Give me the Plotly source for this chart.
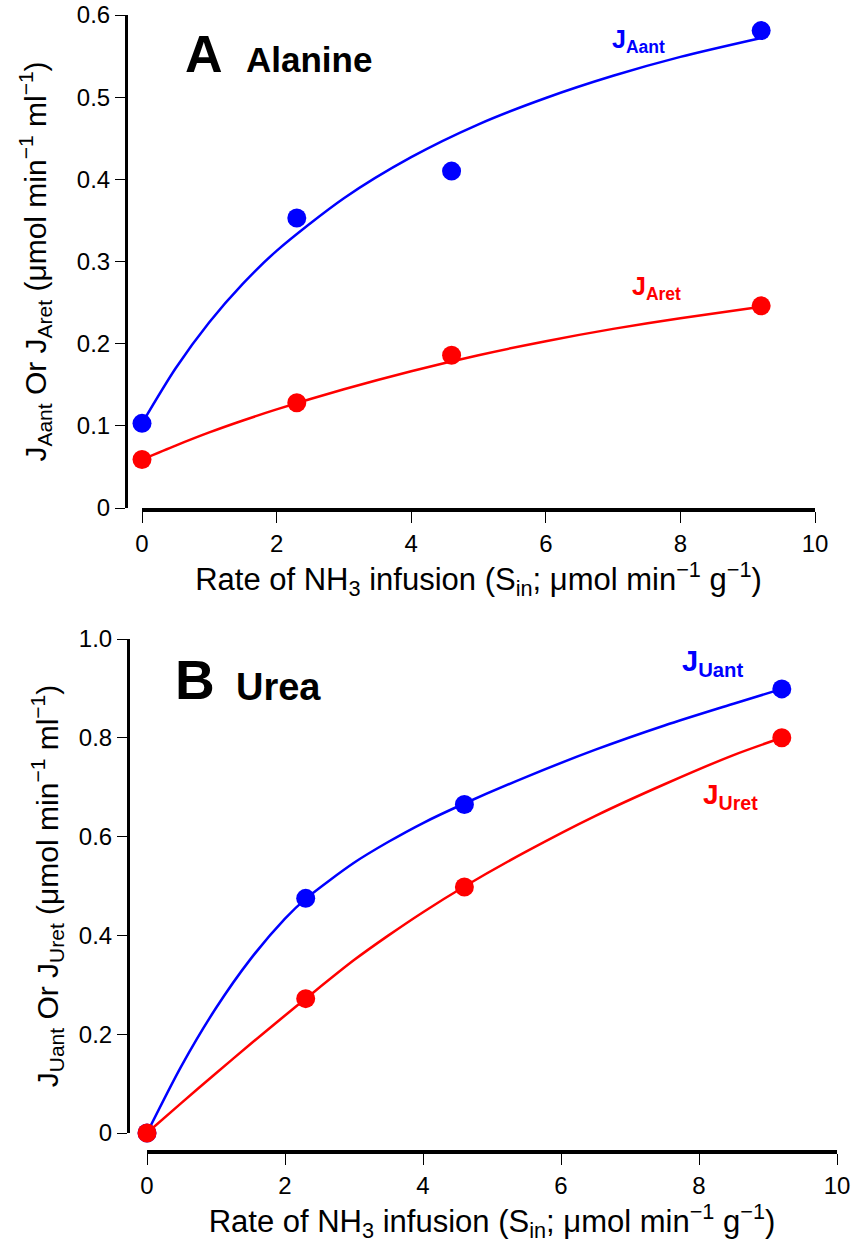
import plotly.graph_objects as go

# ---------------- data ----------------
x_pts = [0, 2.3, 4.6, 9.2]

# Panel A (Alanine)
ala_ant = [0.103, 0.353, 0.410, 0.581]
ala_ret = [0.059, 0.128, 0.186, 0.246]
curve_x_A = [0, 0.5, 1, 1.5, 2, 3, 4, 5, 6, 7, 8, 9.2]
ala_ant_fit = [0.103, 0.170, 0.226, 0.273, 0.313, 0.377, 0.427, 0.467, 0.499, 0.526, 0.549, 0.572]
ala_ret_fit = [0.059, 0.076, 0.092, 0.1065, 0.120, 0.1445, 0.1665, 0.186, 0.203, 0.218, 0.231, 0.245]

# Panel B (Urea)
urea_ant = [0.0, 0.475, 0.665, 0.899]
urea_ret = [0.0, 0.272, 0.498, 0.800]
curve_x_B = [0, 0.5, 1, 1.5, 2, 2.3, 3, 3.5, 4, 4.6, 5.5, 6.5, 7.5, 8.5, 9.2]
urea_ant_fit = [0.0, 0.136, 0.253, 0.352, 0.434, 0.474, 0.547, 0.5895, 0.6275, 0.667, 0.721, 0.776, 0.825, 0.869, 0.899]
urea_ret_fit = [0.0, 0.061, 0.121, 0.180, 0.238, 0.272, 0.350, 0.400, 0.447, 0.499, 0.570, 0.642, 0.706, 0.765, 0.800]

x_ticks = [0, 2, 4, 6, 8, 10]
yA_ticks = [0, 0.1, 0.2, 0.3, 0.4, 0.5, 0.6]
yA_labels = ["0", "0.1", "0.2", "0.3", "0.4", "0.5", "0.6"]
yB_ticks = [0, 0.2, 0.4, 0.6, 0.8, 1.0]
yB_labels = ["0", "0.2", "0.4", "0.6", "0.8", "1.0"]

BLUE = "#0000ff"
RED = "#ff0000"
FONT = "Liberation Sans, Arial, sans-serif"
W, H = 860, 1257


def fx(px):
    return px / W


def fy(py):
    return 1 - py / H


fig = go.Figure()


def add_series(xc, yc, xp, yp, color, xa, ya):
    fig.add_trace(go.Scatter(x=xc, y=yc, mode="lines",
                             line=dict(color=color, width=2.5, shape="spline", smoothing=0.8),
                             xaxis=xa, yaxis=ya, cliponaxis=False, showlegend=False, hoverinfo="skip"))
    fig.add_trace(go.Scatter(x=xp, y=yp, mode="markers", marker=dict(color=color, size=19),
                             xaxis=xa, yaxis=ya, cliponaxis=False, showlegend=False))


add_series(curve_x_A, ala_ant_fit, x_pts, ala_ant, BLUE, "x", "y")
add_series(curve_x_A, ala_ret_fit, x_pts, ala_ret, RED, "x", "y")
add_series(curve_x_B, urea_ant_fit, x_pts, urea_ant, BLUE, "x2", "y2")
add_series(curve_x_B, urea_ret_fit, x_pts, urea_ret, RED, "x2", "y2")

xtitle = "Rate of NH<sub>3</sub> infusion (S<sub>in</sub>; μmol min<sup>−1</sup> g<sup>−1</sup>)"

axis_common = dict(showline=True, linecolor="black", ticks="outside", tickcolor="black",
                   showgrid=False, zeroline=False, automargin=False, ticklabeloverflow="allow",
                   tickfont=dict(family=FONT, size=24, color="black"))

fig.update_layout(
    width=W, height=H,
    margin=dict(l=0, r=0, t=0, b=0),
    paper_bgcolor="white", plot_bgcolor="white",
    font=dict(family=FONT, color="black"),
    xaxis=dict(domain=[fx(142), fx(815)], range=[0, 10], anchor="y",
               tickvals=x_ticks, ticktext=[str(v) for v in x_ticks],
               linewidth=3.5, ticklen=11, tickwidth=1.2,
               title=dict(text=xtitle, font=dict(family=FONT, size=31), standoff=11),
               **axis_common),
    yaxis=dict(domain=[fy(508), fy(15)], range=[0, 0.6], anchor="free", position=fx(126),
               tickvals=yA_ticks, ticktext=yA_labels,
               linewidth=3, ticklen=10, tickwidth=1.2,
               title=dict(text="J<sub>Aant</sub> Or J<sub>Aret</sub> (μmol min<sup>−1</sup> ml<sup>−1</sup>)",
                          font=dict(family=FONT, size=30), standoff=20),
               **axis_common),
    xaxis2=dict(domain=[fx(147), fx(837)], range=[0, 10], anchor="free", position=fy(1152),
                tickvals=x_ticks, ticktext=[str(v) for v in x_ticks],
                linewidth=3.5, ticklen=11, tickwidth=1.2,
                title=dict(text=xtitle, font=dict(family=FONT, size=31), standoff=11),
                **axis_common),
    yaxis2=dict(domain=[fy(1133), fy(639)], range=[0, 1.0], anchor="free", position=fx(128),
                tickvals=yB_ticks, ticktext=yB_labels,
                linewidth=3, ticklen=10, tickwidth=1.2,
                title=dict(text="J<sub>Uant</sub> Or J<sub>Uret</sub> (μmol min<sup>−1</sup> ml<sup>−1</sup>)",
                           font=dict(family=FONT, size=30), standoff=10),
                **axis_common),
)


def label(text, px, py, size, color="black"):
    fig.add_annotation(text=text, x=fx(px), y=fy(py), xref="paper", yref="paper",
                       xanchor="left", yanchor="middle", showarrow=False,
                       font=dict(family=FONT, size=size, color=color))


label("<b>A</b>", 183, 54, 52)
label("<b>Alanine</b>", 244, 60, 35)
label("<b>J<sub>Aant</sub></b>", 610, 41, 25, BLUE)
label("<b>J<sub>Aret</sub></b>", 630, 288, 25, RED)
label("<b>B</b>", 173, 680, 55)
label("<b>Urea</b>", 234, 687, 38)
label("<b>J<sub>Uant</sub></b>", 680, 663, 29, BLUE)
label("<b>J<sub>Uret</sub></b>", 701, 797, 28, RED)

# remove the default 8px page margin so the figure fills the 860x1257 window
fig.write_html("out.html", config={"displayModeBar": False},
               post_script="document.body.style.margin='0px';")
